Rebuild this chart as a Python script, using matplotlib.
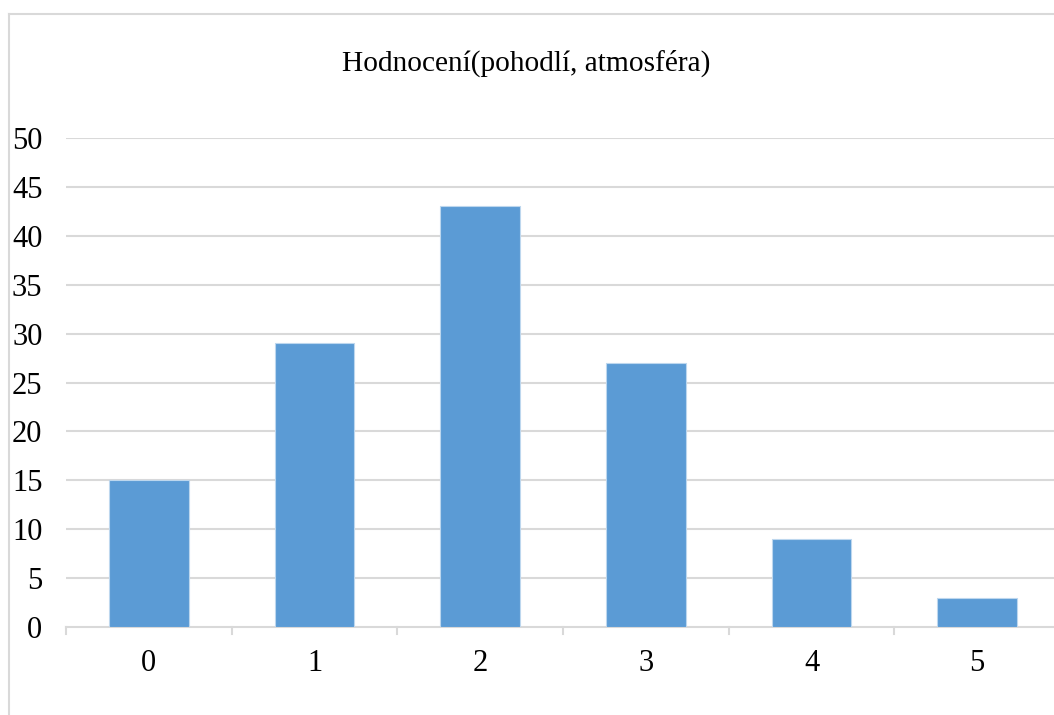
import matplotlib
matplotlib.use("Agg")
import matplotlib.pyplot as plt
from matplotlib.lines import Line2D

categories = ["0", "1", "2", "3", "4", "5"]
values = [15, 29, 43, 27, 9, 3]
yticks = [0, 5, 10, 15, 20, 25, 30, 35, 40, 45, 50]
title = "Hodnocení(pohodlí, atmosféra)"

plt.rcParams['font.family'] = ['Liberation Serif', 'DejaVu Serif']

W, H = 1054, 715
fig = plt.figure(figsize=(W / 100, H / 100), dpi=100)
ax = fig.add_axes([66 / W, 1 - 627 / H, (1060 - 66) / W, (627 - 138) / H])

grid_c = "#D9D9D9"
x = list(range(len(categories)))
ax.bar(x, values, width=0.48, color="#5B9BD5", edgecolor="#BDD7EE", linewidth=0.8, zorder=3)

ax.set_xlim(-0.5, len(categories) - 0.5)
ax.set_ylim(0, 50)
ax.set_yticks(yticks)
ax.set_yticklabels([str(v) for v in yticks], fontsize=22)
ax.set_xticks(x)
ax.set_xticklabels(categories, fontsize=22)
ax.tick_params(axis="y", length=0, pad=17)
ax.tick_params(axis="x", length=0, pad=16)
for v in yticks[1:]:
    ax.axhline(v, color=grid_c, linewidth=1.5, zorder=1)

# category separators below the axis line
for b in [i - 0.5 for i in range(len(categories) + 1)]:
    ax.plot([b, b], [0, -0.75], color=grid_c, linewidth=1.5, clip_on=False, zorder=2)

for s in ["top", "right", "left"]:
    ax.spines[s].set_visible(False)
ax.spines["bottom"].set_color(grid_c)
ax.spines["bottom"].set_linewidth(1.5)

fig.text(526 / W, 1 - 63 / H, title, ha="center", va="center", fontsize=21.2)

# chart area border (cropped at right and bottom)
fig.add_artist(Line2D([8.5 / W, 8.5 / W], [0, 1 - 14 / H], color=grid_c, linewidth=1.5))
fig.add_artist(Line2D([8.5 / W, 1], [1 - 14 / H, 1 - 14 / H], color=grid_c, linewidth=1.5))

fig.savefig("out.png", dpi=100)
